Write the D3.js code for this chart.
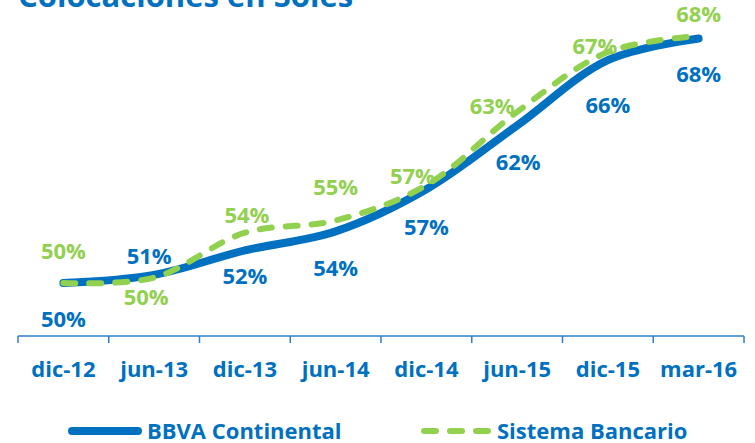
<!DOCTYPE html>
<html lang="es">
<head>
    <meta charset="UTF-8">
    <title>Colocaciones en Soles</title>
    <script src="https://d3js.org/d3.v7.min.js"></script>
    <style>
        body { margin: 0; background: #fff; }
        text { font-family: "Open Sans", sans-serif; font-weight: bold; }
    </style>
</head>
<body>
    <div id="chart"></div>

    <script>
        // data
        const periods = ['dic-12', 'jun-13', 'dic-13', 'jun-14', 'dic-14', 'jun-15', 'dic-15', 'mar-16'];
        const bbva = [50.0, 50.6, 52.4, 53.8, 56.9, 61.6, 66.4, 68.0];
        const sistema = [50.0, 50.4, 53.7, 54.6, 57.2, 62.6, 67.0, 68.2];

        // label nudges (dx, dy from the point), same as the hand placed ones
        const bbvaOffsets = [[0, 36], [-5, -19], [0, 26], [0, 37], [0, 38], [1, 37], [0, 45], [0, 36]];
        const sistemaOffsets = [[0, -32], [-8, 20], [2, -17], [0, -33], [-14, -9], [-25, -6], [-13, -6], [0, -21]];

        const width = 755;
        const height = 443;
        const blue = '#0070C0';
        const green = '#92D050';

        const svg = d3.select('#chart').append('svg')
            .attr('width', width)
            .attr('height', height);

        // title, cut at the top like in the slide
        svg.append('text')
            .attr('x', 18)
            .attr('y', 7)
            .attr('fill', blue)
            .attr('font-size', 31)
            .text('Colocaciones en Soles');

        const x = d3.scaleBand()
            .domain(periods)
            .range([18, 744]);

        const y = d3.scaleLinear()
            .domain([50, 68])
            .range([283, 38.5]);

        const cx = d => x(d) + x.bandwidth() / 2;

        // x axis
        const axis = svg.append('g')
            .attr('transform', 'translate(0,336)')
            .call(d3.axisBottom(x).tickSize(0).tickPadding(25));
        axis.select('.domain').remove();
        axis.selectAll('text')
            .attr('fill', blue)
            .attr('font-size', 22);

        axis.append('line')
            .attr('x1', x.range()[0]).attr('x2', x.range()[1])
            .attr('stroke', '#2F7EC7').attr('stroke-width', 1.5);
        axis.selectAll('.sep')
            .data(periods.concat(['end']))
            .enter().append('line')
            .attr('class', 'sep')
            .attr('x1', (d, i) => x.range()[0] + i * x.step())
            .attr('x2', (d, i) => x.range()[0] + i * x.step())
            .attr('y1', 0).attr('y2', 7)
            .attr('stroke', '#2F7EC7').attr('stroke-width', 1.5);

        const line = d3.line()
            .x((d, i) => cx(periods[i]))
            .y(d => y(d))
            .curve(d3.curveCatmullRom.alpha(0.5));

        svg.append('path')
            .datum(bbva)
            .attr('d', line)
            .attr('fill', 'none')
            .attr('stroke', blue)
            .attr('stroke-width', 8)
            .attr('stroke-linecap', 'round');

        svg.append('path')
            .datum(sistema)
            .attr('d', line)
            .attr('fill', 'none')
            .attr('stroke', green)
            .attr('stroke-width', 6)
            .attr('stroke-linecap', 'round')
            .attr('stroke-dasharray', '12,14');

        function labels(values, offsets, color) {
            svg.append('g').selectAll('text')
                .data(values)
                .enter().append('text')
                .attr('x', (d, i) => cx(periods[i]) + offsets[i][0])
                .attr('y', (d, i) => y(d) + offsets[i][1])
                .attr('dy', '0.35em')
                .attr('text-anchor', 'middle')
                .attr('fill', color)
                .attr('font-size', 22)
                .text(d => Math.round(d) + '%');
        }
        labels(sistema, sistemaOffsets, green);
        labels(bbva, bbvaOffsets, blue);

        // legend
        const legend = svg.append('g').attr('transform', 'translate(0,431)');
        legend.append('line')
            .attr('x1', 72).attr('x2', 138)
            .attr('stroke', blue).attr('stroke-width', 8).attr('stroke-linecap', 'round');
        legend.append('text')
            .attr('x', 147).attr('dy', '0.35em')
            .attr('fill', blue).attr('font-size', 22)
            .text('BBVA Continental');
        legend.append('line')
            .attr('x1', 424).attr('x2', 488)
            .attr('stroke', green).attr('stroke-width', 6).attr('stroke-linecap', 'round')
            .attr('stroke-dasharray', '12,14');
        legend.append('text')
            .attr('x', 497).attr('dy', '0.35em')
            .attr('fill', blue).attr('font-size', 22)
            .text('Sistema Bancario');
    </script>
</body>
</html>
